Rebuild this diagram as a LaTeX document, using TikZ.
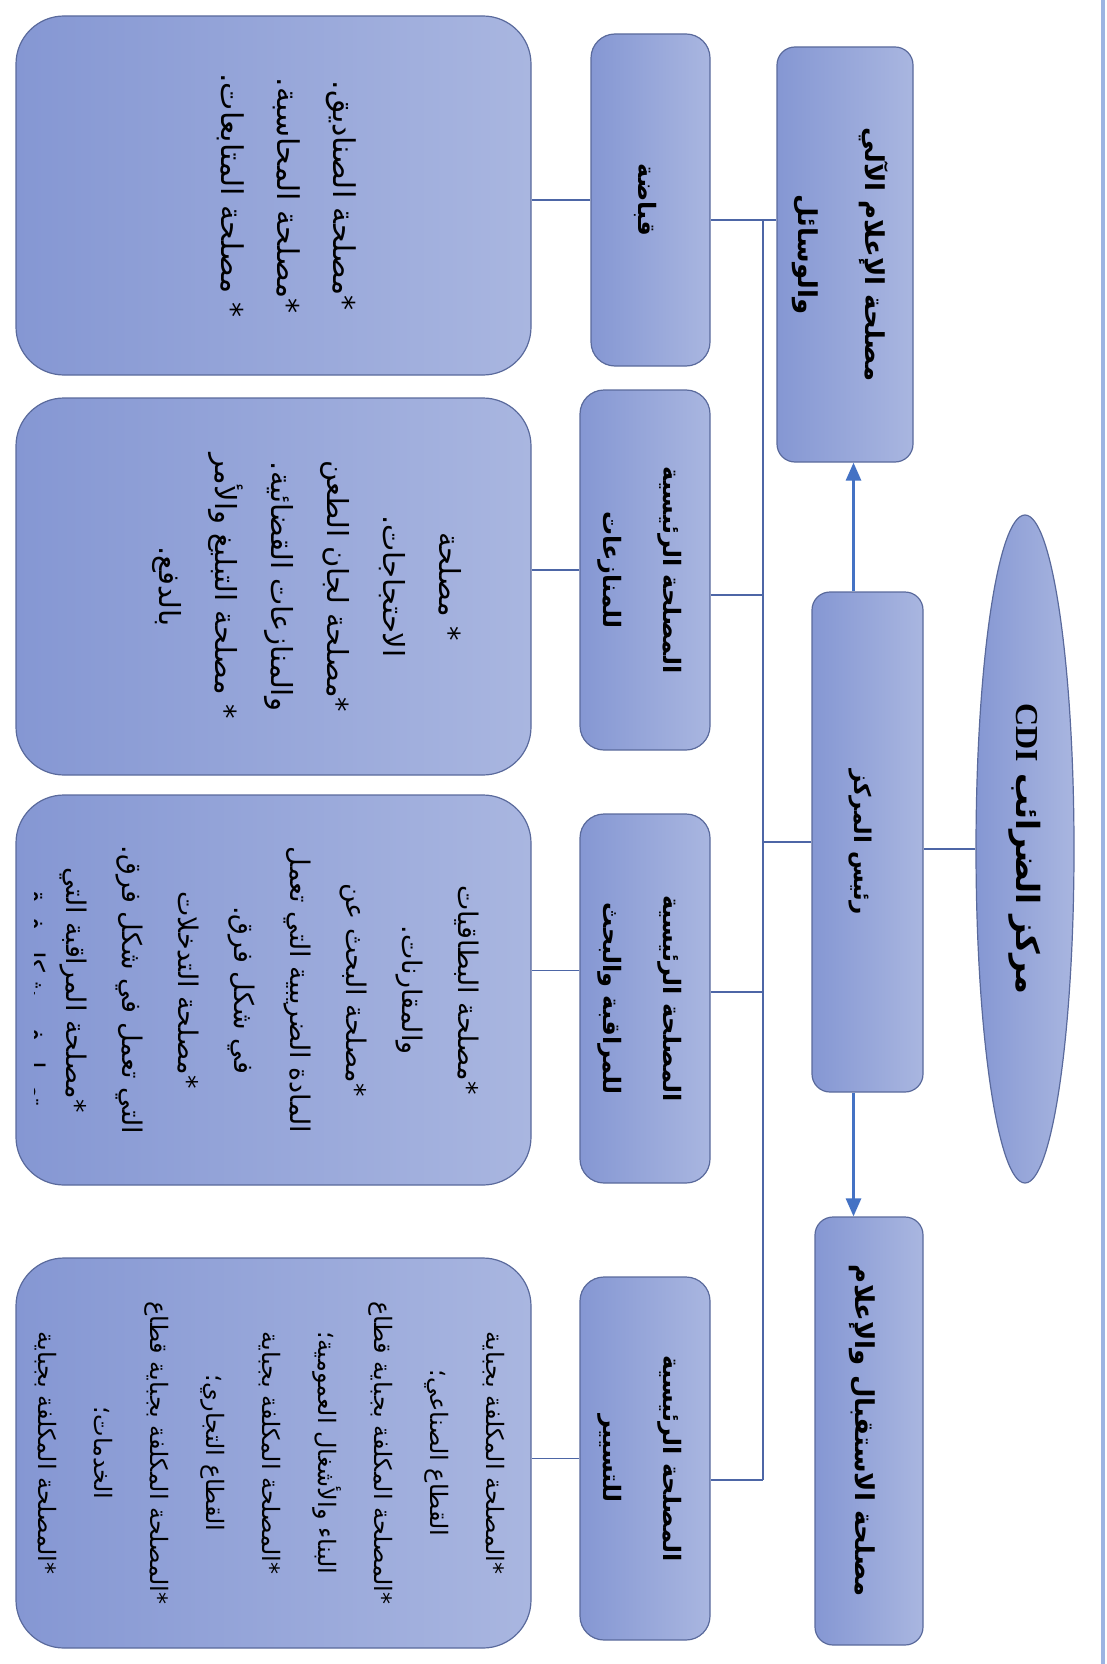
\documentclass[tikz,border=0pt]{standalone}
\usepackage{fontspec}
\usepackage{graphicx}
\usetikzlibrary{shapes.geometric,arrows.meta}
\TeXXeTstate=1
\newfontfamily\arabicfont[Script=Arabic]{DejaVu Sans}
\newfontfamily\cdifont{Liberation Serif}
\definecolor{boxL}{HTML}{8597D3}
\definecolor{boxR}{HTML}{A9B6E0}
\definecolor{boxEdge}{HTML}{5A6A9C}
\definecolor{linkCol}{HTML}{4D66A6}
\definecolor{arrowCol}{HTML}{4472C4}
\definecolor{pageLine}{HTML}{9CB4E2}
\newcommand{\rtl}[1]{\beginR #1\endR}
\newcommand{\vtext}[1]{\rotatebox{-90}{\begin{tabular}{@{}c@{}}#1\end{tabular}}}
\newcommand{\padrow}[1]{\rule[-#1]{0pt}{0pt}}
\def \leafWidth {257.5pt}

\begin{document}
\begin{tikzpicture}[x=0.5pt, y=-0.5pt,
    card/.style={draw=boxEdge, line width=0.6pt, left color=boxL, right color=boxR,
      rounded corners=#1, inner sep=0pt},
    card/.default=10pt,
    oval/.style={ellipse, draw=boxEdge, line width=0.6pt, left color=boxL, right color=boxR,
      inner sep=0pt, minimum width=49pt, minimum height=334pt,
      font=\arabicfont\bfseries\fontsize{16}{20}\selectfont},
    head/.style={card=9pt, font=\arabicfont\bfseries\fontsize{#1}{33.5}\selectfont},
    head/.default=13,
    unit/.style={card=12pt, minimum width=65pt, font=\arabicfont\bfseries\fontsize{12}{30}\selectfont},
    leaf/.style={card=24pt, minimum width=\leafWidth, font=\arabicfont\fontsize{#1}{28}\selectfont},
    link/.style={draw=linkCol, line width=0.8pt},
    arr/.style={draw=arrowCol, line width=1.4pt, -{Triangle[length=9pt,width=7.5pt]}}]
  \useasboundingbox (0,0) rectangle (1107,1664);
  \draw[pageLine, line width=2pt] (1103,0) -- (1103,1664);

  \node[oval] (ttl) at (1025,849) {\rotatebox{-90}{\rtl{مركز الضرائب \beginL{\cdifont CDI}\endL}}};
  \node[head=11.5, minimum width=55.5pt, minimum height=250pt] (rais) at (867.5,842) {\vtext{\rtl{رئيس المركز}}};
  \node[head, minimum width=68pt, minimum height=207.5pt] (ilam) at (845,254.5)
    {\vtext{\rtl{مصلحة الإعلام الآلي}\\ \rtl{والوسائل}}};
  \node[head, minimum width=54pt, minimum height=214pt] (istq) at (869,1431)
    {\vtext{\rtl{مصلحة الاستقبال والإعلام}}};

  \node[unit, minimum width=59.5pt, minimum height=166pt] (qbd) at (650.5,200) {\vtext{\rtl{قباضة}}};
  \node[unit, minimum height=180pt] (mnz) at (645,570)
    {\vtext{\rtl{المصلحة الرئيسية}\\ \rtl{للمنازعات}}};
  \node[unit, minimum height=184.5pt] (mrq) at (645,998.5)
    {\vtext{\rtl{المصلحة الرئيسية}\\ \rtl{للمراقبة والبحث}}};
  \node[unit, minimum height=181.5pt] (tsy) at (645,1458.5)
    {\vtext{\rtl{المصلحة الرئيسية}\\ \rtl{للتسيير}}};

  \node[leaf=15, minimum height=179.5pt] (lf1) at (273.5,195.5)
    {\vtext{\rtl{*مصلحة الصناديق.}\\ \rtl{*مصلحة المحاسبة.}\\ \rtl{* مصلحة المتابعات.}\padrow{23.4pt}}};
  \node[leaf=14.5, minimum height=188.5pt] (lf2) at (273.5,586.5)
    {\vtext{\rtl{* مصلحة}\\ \rtl{الاحتجاجات.}\\ \rtl{*مصلحة لجان الطعن}\\
      \rtl{والمنازعات القضائية.}\\ \rtl{* مصلحة التبليغ والأمر}\\ \rtl{بالدفع.}\padrow{45.4pt}}};
  \node[leaf=13.5, minimum height=195pt] (lf3) at (273.5,990)
    {\vtext{\rtl{*مصلحة البطاقيات}\\ \rtl{والمقارنات.}\\ \rtl{*مصلحة البحث عن}\\
      \rtl{المادة الضريبية التي تعمل}\\ \rtl{في شكل فرق.}\\ \rtl{*مصلحة التدخلات}\\
      \rtl{التي تعمل في شكل فرق.}\\ \rtl{*مصلحة المراقبة التي}}};
  \begin{scope}
    \clip (34,800) rectangle (70,1180);
    \node[font=\arabicfont\fontsize{13.5}{28}\selectfont, inner sep=0pt] (lf3end) at (37,990)
      {\vtext{\rtl{تعمل في شكل فرق.}}};
  \end{scope}
  \node[leaf=12, minimum height=195pt] (lf4) at (273.5,1453)
    {\vtext{\rtl{*المصلحة المكلفة بجباية}\\ \rtl{القطاع الصناعي؛}\\ \rtl{*المصلحة المكلفة بجباية قطاع}\\
      \rtl{البناء والأشغال العمومية؛}\\ \rtl{*المصلحة المكلفة بجباية}\\ \rtl{القطاع التجاري؛}\\
      \rtl{*المصلحة المكلفة بجباية قطاع}\\ \rtl{الخدمات؛}\\ \rtl{*المصلحة المكلفة بجباية}}};

  \coordinate (j0) at (763,220);
  \coordinate (j1) at (763,595);
  \coordinate (j3) at (763,992);
  \coordinate (j4) at (763,1480);

  \draw[link] (ttl.west) -- (ttl.west -| rais.east);
  \draw[link] (j0 -| qbd.east) -- (j0 -| ilam.west);
  \draw[link] (j0) -- (j4);
  \draw[link] (rais.west) -- (rais.west -| j0);
  \draw[link] (j1 -| mnz.east) -- (j1);
  \draw[link] (j3 -| mrq.east) -- (j3);
  \draw[link] (j4 -| tsy.east) -- (j4);
  \draw[link] (qbd.west) -- (qbd.west -| lf1.east);
  \draw[link] (mnz.west) -- (mnz.west -| lf2.east);
  \draw[link] ([yshift=14pt]mrq.west) -- ([yshift=14pt]mrq.west -| lf3.east);
  \draw[link] (tsy.west) -- (tsy.west -| lf4.east);

  \draw[arr] ([xshift=-7pt]rais.north) -- ([xshift=-7pt]rais.north |- ilam.south);
  \draw[arr] ([xshift=-7pt]rais.south) -- ([xshift=-7pt]rais.south |- istq.north);
\end{tikzpicture}
\end{document}
